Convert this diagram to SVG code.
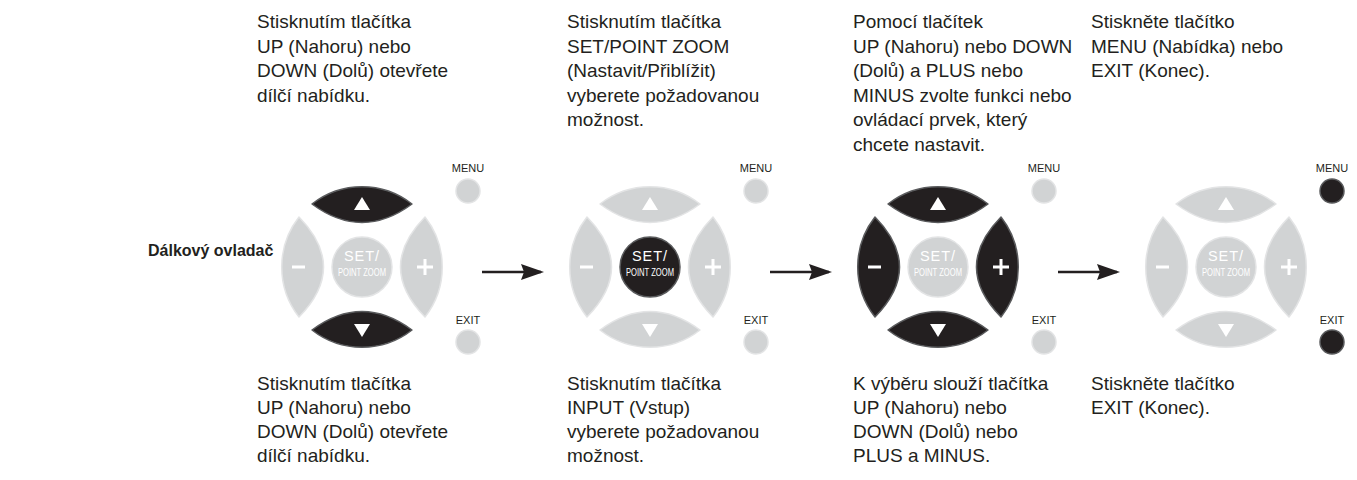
<svg xmlns="http://www.w3.org/2000/svg" xmlns:xlink="http://www.w3.org/1999/xlink" width="1357" height="480" viewBox="0 0 1357 480">
<style>
  .t { font-family: "Liberation Sans", Arial, sans-serif; font-size: 19px; fill: #231f20; }
  .lbl { font-family: "Liberation Sans", Arial, sans-serif; font-size: 16px; font-weight: bold; fill: #231f20; }
  .small { font-family: "Liberation Sans", Arial, sans-serif; font-size: 11px; fill: #231f20; text-anchor: middle; }
  .g { fill: #d1d3d4; stroke: #e3e4e5; stroke-width: 1.5; stroke-linejoin: round; }
  .k { fill: #231f20; stroke: #5a5b5d; stroke-width: 1.5; stroke-linejoin: round; }
  .sym { fill: #ffffff; }
  .set { font-family: "Liberation Sans", Arial, sans-serif; fill: #ffffff; text-anchor: middle; }
  .conn { stroke: #231f20; stroke-width: 2.5; fill: none; }
</style>
<defs>
  <path id="btn" d="M-50,-63 A81,81 0 0 1 50,-63 Q0,-26 -50,-63 Z"/>
  <path id="sbtn" d="M-50,-63 A81,81 0 0 1 50,-63 Q0,-14 -50,-63 Z"/>
  <g id="syms">
    <path class="sym" d="M0,-70 L8,-57 L-8,-57 Z"/>
    <path class="sym" d="M0,70 L8,57 L-8,57 Z"/>
    <rect class="sym" x="-70" y="-1.5" width="13" height="3"/>
    <rect class="sym" x="55" y="-1.5" width="16" height="3"/>
    <rect class="sym" x="61.5" y="-8" width="3" height="16"/>
  </g>
  <g id="settext">
    <text class="set" x="0" y="-6" font-size="14.5" letter-spacing="1">SET/</text>
    <text class="set" x="0" y="9" font-size="11.5" textLength="48" lengthAdjust="spacingAndGlyphs">POINT ZOOM</text>
  </g>
  <marker id="ah" markerWidth="24" markerHeight="18" refX="20" refY="8" orient="auto" markerUnits="userSpaceOnUse">
    <path d="M0,0 L23,8 L0,16 L3,8 Z" fill="#231f20"/>
  </marker>
</defs>
<rect width="1357" height="480" fill="#ffffff"/>

<text class="lbl" x="148" y="256">Dálkový ovladač</text>

<g id="pad1" transform="translate(362,267)">
  <use href="#btn" class="k"/>
  <use href="#btn" class="k" transform="rotate(180)"/>
  <use href="#sbtn" class="g" transform="rotate(-90)"/>
  <use href="#sbtn" class="g" transform="rotate(90)"/>
  <circle r="30" class="g"/>
  <use href="#syms"/>
  <use href="#settext"/>
  <text class="small" x="106" y="-95">MENU</text>
  <circle cx="106" cy="-76" r="12" class="g"/>
  <text class="small" x="106" y="57">EXIT</text>
  <circle cx="106" cy="75" r="12" class="g"/>
</g>

<g id="pad2" transform="translate(650,267)">
  <use href="#btn" class="g"/>
  <use href="#btn" class="g" transform="rotate(180)"/>
  <use href="#sbtn" class="g" transform="rotate(-90)"/>
  <use href="#sbtn" class="g" transform="rotate(90)"/>
  <circle r="30" class="k"/>
  <use href="#syms"/>
  <use href="#settext"/>
  <text class="small" x="106" y="-95">MENU</text>
  <circle cx="106" cy="-76" r="12" class="g"/>
  <text class="small" x="106" y="57">EXIT</text>
  <circle cx="106" cy="75" r="12" class="g"/>
</g>

<g id="pad3" transform="translate(938,267)">
  <use href="#btn" class="k"/>
  <use href="#btn" class="k" transform="rotate(180)"/>
  <use href="#sbtn" class="k" transform="rotate(-90)"/>
  <use href="#sbtn" class="k" transform="rotate(90)"/>
  <circle r="30" class="g"/>
  <use href="#syms"/>
  <use href="#settext"/>
  <text class="small" x="106" y="-95">MENU</text>
  <circle cx="106" cy="-76" r="12" class="g"/>
  <text class="small" x="106" y="57">EXIT</text>
  <circle cx="106" cy="75" r="12" class="g"/>
</g>

<g id="pad4" transform="translate(1226,267)">
  <use href="#btn" class="g"/>
  <use href="#btn" class="g" transform="rotate(180)"/>
  <use href="#sbtn" class="g" transform="rotate(-90)"/>
  <use href="#sbtn" class="g" transform="rotate(90)"/>
  <circle r="30" class="g"/>
  <use href="#syms"/>
  <use href="#settext"/>
  <text class="small" x="106" y="-95">MENU</text>
  <circle cx="106" cy="-76" r="12" class="k"/>
  <text class="small" x="106" y="57">EXIT</text>
  <circle cx="106" cy="75" r="12" class="k"/>
</g>

<g id="connectors">
  <line class="conn" x1="482" y1="272" x2="541" y2="272" marker-end="url(#ah)"/>
  <line class="conn" x1="770" y1="272" x2="829" y2="272" marker-end="url(#ah)"/>
  <line class="conn" x1="1058" y1="272" x2="1117" y2="272" marker-end="url(#ah)"/>
</g>

<g id="text-top1" class="t">
  <text x="257" y="28">Stisknutím tlačítka</text>
  <text x="257" y="52.5">UP (Nahoru) nebo</text>
  <text x="257" y="77">DOWN (Dolů) otevřete</text>
  <text x="257" y="101.5">dílčí nabídku.</text>
</g>
<g id="text-top2" class="t">
  <text x="567" y="28">Stisknutím tlačítka</text>
  <text x="567" y="52.5">SET/POINT ZOOM</text>
  <text x="567" y="77">(Nastavit/Přiblížit)</text>
  <text x="567" y="101.5">vyberete požadovanou</text>
  <text x="567" y="126">možnost.</text>
</g>
<g id="text-top3" class="t">
  <text x="853" y="28">Pomocí tlačítek</text>
  <text x="853" y="52.5">UP (Nahoru) nebo DOWN</text>
  <text x="853" y="77">(Dolů) a PLUS nebo</text>
  <text x="853" y="101.5">MINUS zvolte funkci nebo</text>
  <text x="853" y="126">ovládací prvek, který</text>
  <text x="853" y="150.5">chcete nastavit.</text>
</g>
<g id="text-top4" class="t">
  <text x="1091" y="28">Stiskněte tlačítko</text>
  <text x="1091" y="52.5">MENU (Nabídka) nebo</text>
  <text x="1091" y="77">EXIT (Konec).</text>
</g>
<g id="text-bot1" class="t">
  <text x="257" y="390">Stisknutím tlačítka</text>
  <text x="257" y="414">UP (Nahoru) nebo</text>
  <text x="257" y="438">DOWN (Dolů) otevřete</text>
  <text x="257" y="462">dílčí nabídku.</text>
</g>
<g id="text-bot2" class="t">
  <text x="567" y="390">Stisknutím tlačítka</text>
  <text x="567" y="414">INPUT (Vstup)</text>
  <text x="567" y="438">vyberete požadovanou</text>
  <text x="567" y="462">možnost.</text>
</g>
<g id="text-bot3" class="t">
  <text x="853" y="390">K výběru slouží tlačítka</text>
  <text x="853" y="414">UP (Nahoru) nebo</text>
  <text x="853" y="438">DOWN (Dolů) nebo</text>
  <text x="853" y="462">PLUS a MINUS.</text>
</g>
<g id="text-bot4" class="t">
  <text x="1091" y="390">Stiskněte tlačítko</text>
  <text x="1091" y="414">EXIT (Konec).</text>
</g>
</svg>
